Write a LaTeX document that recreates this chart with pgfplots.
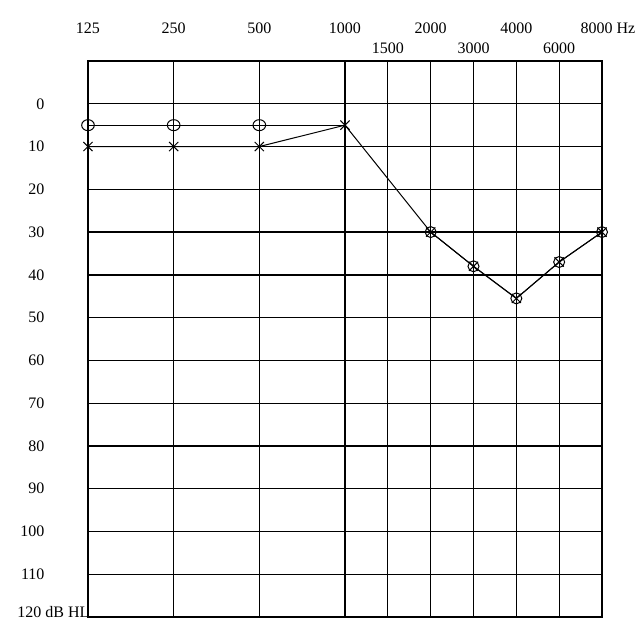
\documentclass[border=0pt]{standalone}
\usepackage{fontspec}
\setmainfont{Liberation Serif}
\usepackage{pgfplots}
\pgfplotsset{compat=1.18}
\begin{document}
\begin{tikzpicture}
\useasboundingbox (0,0) rectangle (640pt,619pt);
\begin{axis}[
  at={(88pt,2pt)}, anchor=south west,
  scale only axis, width=514pt, height=556pt,
  xmin=0, xmax=6, ymin=-10, ymax=120, y dir=reverse,
  clip=false,
  axis line style={black, line width=1.3pt},
  grid=major,
  major grid style={black, line width=1.3pt},
  major tick length=0pt,
  tick label style={font=\fontsize{16}{19}\selectfont},
  xticklabel pos=upper,
  xtick={0,1,2,3,4,5,6},
  xticklabels={125,250,500,1000,2000,4000,{\hspace*{12pt}8000 Hz}},
  xticklabel style={anchor=base, yshift=28pt},
  extra x ticks={3.5,4.5,5.5},
  extra x tick labels={1500,3000,6000},
  extra x tick style={grid=major, xticklabel style={yshift=-20pt}},
  ytick={-10,0,10,20,30,40,50,60,70,80,90,100,110},
  yticklabels={,0,10,20,30,40,50,60,70,80,90,100,110},
  yticklabel style={anchor=east, xshift=-40pt},
  extra y ticks={120},
  extra y tick labels={120 dB HL},
  extra y tick style={grid=major, yticklabel style={anchor=base east, xshift=45pt, yshift=0pt}},
]
% right ear (O) line 125-1000
\addplot[black, line width=1pt, mark=none] coordinates {(0,5) (1,5) (2,5) (3,5)};
\addplot[black, line width=1pt, only marks, mark=o, mark size=5.5pt, mark options={xscale=1.15}] coordinates {(0,5) (1,5) (2,5)};
% left ear (X)
\addplot[black, line width=1pt, mark=x, mark size=6.5pt] coordinates {(0,10) (1,10) (2,10) (3,5) (4,30) (4.5,38) (5,45.5) (5.5,37) (6,30)};
% right ear (O) 2000-8000
\addplot[black, line width=1pt, mark=o, mark size=5.5pt] coordinates {(4,30) (4.5,38) (5,45.5) (5.5,37) (6,30)};
\end{axis}
\end{tikzpicture}
\end{document}
